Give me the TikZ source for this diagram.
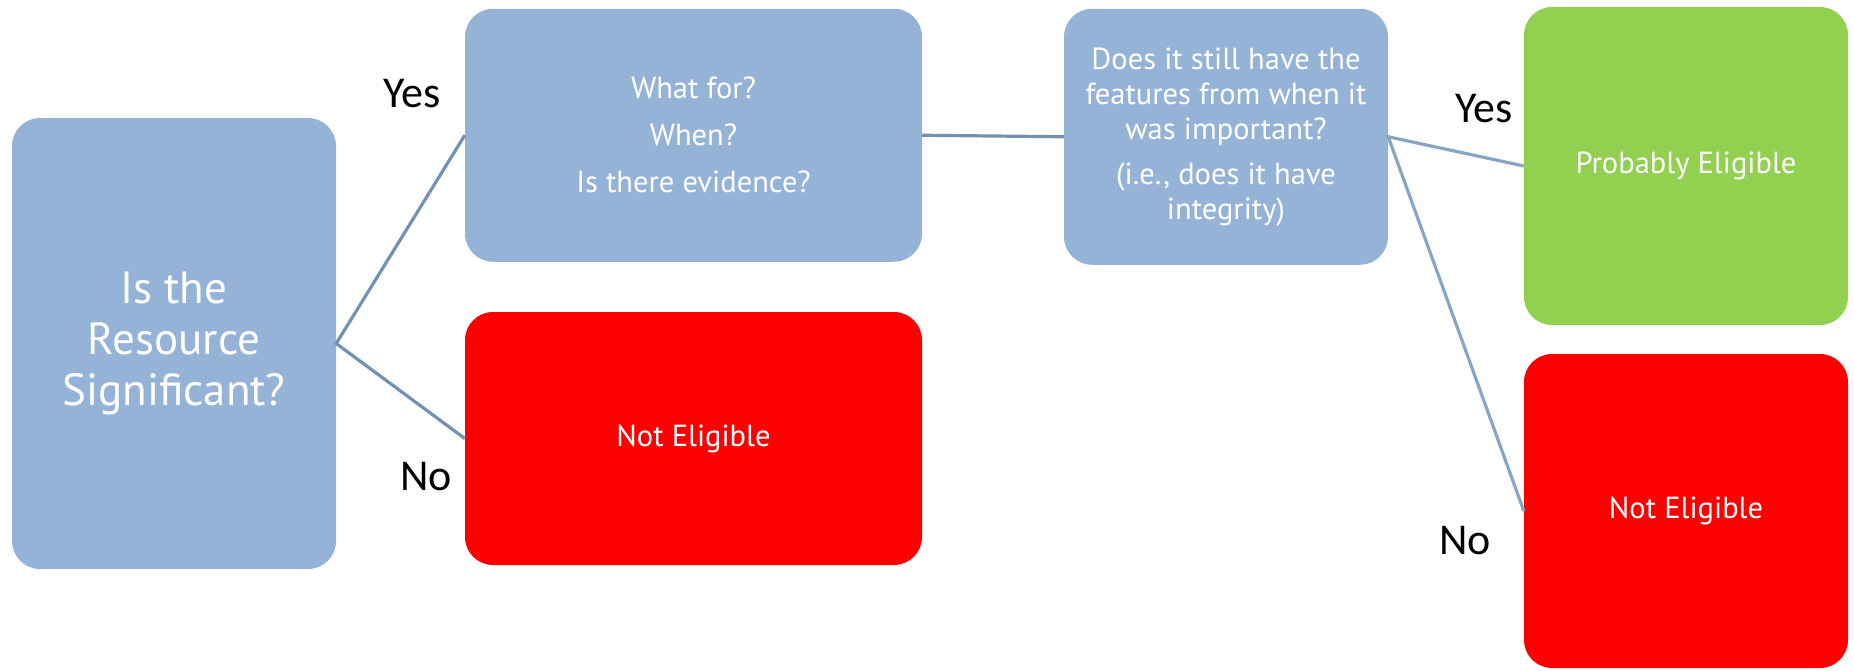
\documentclass[tikz,border=0pt]{standalone}
\usepackage{fontspec}
\setmainfont{PT Sans}
\newfontfamily\lblfont{Carlito}
\definecolor{boxblue}{HTML}{95B3D7}
\definecolor{boxgreen}{HTML}{92D050}
\definecolor{boxred}{HTML}{FF0000}
\definecolor{lineA}{HTML}{7391B1}
\definecolor{lineB}{HTML}{87A6C6}
\tikzset{
  card/.style={rectangle, rounded corners=28pt, inner sep=0pt, text=white, align=center},
  lbl/.style={inner sep=0pt, font=\lblfont\fontsize{44}{44}\selectfont, text=black},
  linkA/.style={draw=lineA, line width=3.2pt},
  linkB/.style={draw=lineB, line width=3.2pt}
}
\begin{document}
\begin{tikzpicture}[x=1pt,y=1pt]
\useasboundingbox (0,0) rectangle (1854,-670);
\node[card, fill=boxblue, minimum width=324pt, minimum height=451pt,
  font=\fontsize{45}{51}\selectfont] (sig) at (174,-343.5) {Is the\\Resource\\Significant?};
\node[card, fill=boxblue, minimum width=457pt, minimum height=253pt,
  font=\fontsize{30.5}{47}\selectfont] (what) at (693.5,-135.25) {What for?\\When?\\Is there evidence?};
\node[card, fill=boxred, minimum width=457pt, minimum height=253pt,
  font=\fontsize{30.5}{35}\selectfont] (ne1) at (693.5,-438.5) {Not Eligible};
\node[card, fill=boxblue, minimum width=324pt, minimum height=256pt,
  font=\fontsize{30.5}{35}\selectfont] (integ) at (1226,-136.75) {Does it still have the\\features from when it\\was important?\\[10pt](i.e., does it have\\integrity)};
\node[card, fill=boxgreen, minimum width=324pt, minimum height=318pt,
  font=\fontsize{30.5}{35}\selectfont] (prob) at (1686,-166) {Probably Eligible};
\node[card, fill=boxred, minimum width=324pt, minimum height=314pt,
  font=\fontsize{30.5}{35}\selectfont] (ne2) at (1686,-511) {Not Eligible};
\node[lbl] (yes1) at (412,-94) {Yes};
\node[lbl] (no1) at (426,-477) {No};
\node[lbl] (yes2) at (1484,-109) {Yes};
\node[lbl] (no2) at (1465,-541) {No};
\draw[linkA] (what.west) -- (sig.east) -- (ne1.west);
\draw[linkA] (what.east) -- (integ.west);
\draw[linkB] (prob.west) -- (integ.east) -- (ne2.west);
\end{tikzpicture}
\end{document}
